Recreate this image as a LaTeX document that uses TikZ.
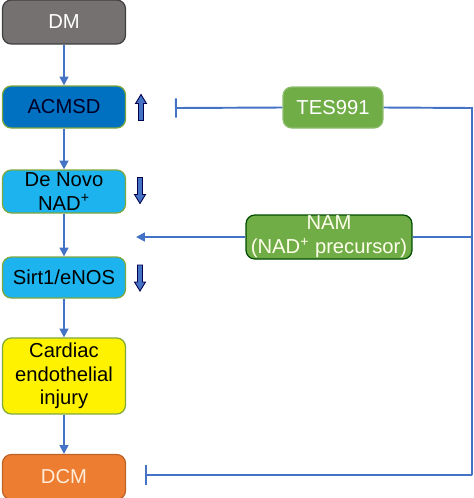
\documentclass[tikz,border=0pt]{standalone}
\usepackage{fontspec}
\setmainfont{Liberation Sans}
\usetikzlibrary{arrows.meta}
\definecolor{lineblue}{HTML}{4472C4}
\definecolor{dmgray}{HTML}{767171}
\definecolor{acmsdblue}{HTML}{0070C0}
\definecolor{skyblue}{HTML}{1CB3EE}
\definecolor{drugreen}{HTML}{70AD47}
\definecolor{dcmorange}{HTML}{ED7D31}
\definecolor{edgegreen}{HTML}{7FA83C}
\tikzset{
  box/.style={draw, rounded corners=5pt, line width=0.7pt, inner sep=0pt,
    align=center, minimum width=2.46cm, font=\fontsize{11.5}{13.5}\selectfont},
  flow/.style={-{Triangle[length=5pt,width=5pt]}, lineblue, line width=1.1pt},
  blocker/.style={-{Bar[width=11pt]}, lineblue, line width=1.1pt},
  rail/.style={lineblue, line width=1.1pt},
  trendedge/.style={draw=black!70!blue, fill=lineblue, line width=0.5pt},
  % block arrow pointing up, 26 units long; rotate=180 for down
  trend/.pic={\path[trendedge] (-2.5,13) -- (-2.5,-4) -- (-5.5,-4) -- (0,-13)
    -- (5.5,-4) -- (2.5,-4) -- (2.5,13) -- cycle;}
}
\begin{document}
\begin{tikzpicture}[x=0.02cm,y=-0.02cm]
\useasboundingbox (0,0) rectangle (474,498);
\node[box, fill=dmgray, draw=black!75, text=white, minimum height=0.88cm] (dm) at (64,22) {DM};
\node[box, fill=acmsdblue, draw=edgegreen, text=black!85!blue, minimum height=0.84cm] (acmsd) at (64,107) {ACMSD};
\node[box, fill=skyblue, draw=edgegreen, minimum height=0.86cm] (denovo) at (64,191.5) {De Novo\\NAD\textsuperscript{+}};
\node[box, fill=skyblue, draw=edgegreen, minimum height=0.82cm] (sirt) at (64,277.5) {Sirt1/eNOS};
\node[box, fill=yellow, draw=edgegreen, minimum height=1.52cm] (injury) at (64,376) {Cardiac\\endothelial\\injury};
\node[box, fill=dcmorange, draw=dcmorange!80!black, text=orange!15, minimum height=0.9cm] (dcm) at (64,477) {DCM};
\node[box, fill=drugreen, draw=drugreen!80!white, text=white, minimum width=2cm, minimum height=0.82cm] (tes) at (333,107.5) {TES991};
\node[box, fill=drugreen, draw=black!70!green, text=white!92!yellow, minimum width=3.32cm, minimum height=0.88cm] (nam) at (329,237) {NAM\\(NAD\textsuperscript{+} precursor)};

\pic at (141,107.5) {trend};
\pic[rotate=180] at (140,190.5) {trend};
\pic[rotate=180] at (140,278) {trend};

\coordinate (railtop) at (472,108);
\coordinate (railbot) at (472,475);
\coordinate (acmsdstop) at (175,108);
\coordinate (dcmstop) at (145,475);
\coordinate (namtip) at (136,237);

\draw[flow] (dm) -- (acmsd);
\draw[flow] (acmsd) -- (denovo);
\draw[flow] (denovo) -- (sirt);
\draw[flow] (sirt) -- (injury);
\draw[flow] (injury) -- (dcm);
\draw[blocker] (tes.west) -- (acmsdstop);
\draw[rail] (tes.east) -- (railtop) -- (railbot);
\draw[blocker] (railbot) -- (dcmstop);
\draw[rail] (railtop |- nam.east) -- (nam.east);
\draw[flow] (nam.west) -- (namtip);
\end{tikzpicture}
\end{document}
